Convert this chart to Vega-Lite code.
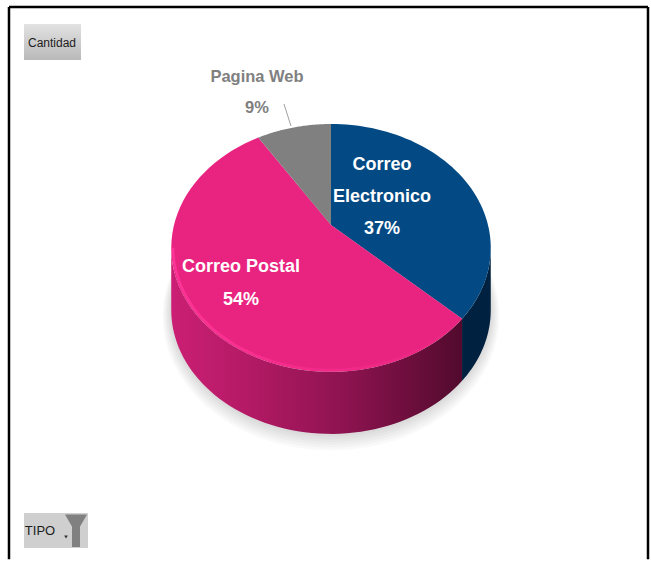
{
  "$schema": "https://vega.github.io/schema/vega-lite/v6.json",
  "width": 651,
  "height": 561,
  "padding": 0,
  "autosize": {"type": "fit", "contains": "padding"},
  "background": "white",
  "view": {"stroke": null},
  "data": {"values": [{"elemento": "marco"}]},
  "datasets": {
    "tipos": [
      {"orden": 1, "tipo": "Correo Electronico", "value": 37, "rotulo": ["Correo", "Electronico", "37%"]},
      {"orden": 2, "tipo": "Correo Postal", "value": 54, "rotulo": ["Correo Postal", "54%"]},
      {"orden": 3, "tipo": "Pagina Web", "value": 9, "rotulo": ["Pagina Web", "9%"]}
    ],
    "sombra": [{"capa": 1}, {"capa": 2}, {"capa": 3}, {"capa": 4}, {"capa": 5}, {"capa": 6}]
  },
  "layer": [
    {
      "mark": {"type": "rule", "stroke": "#000000", "strokeWidth": 2.5},
      "encoding": {
        "x": {"datum": -2.051, "scale": {"domain": [-2.1083, 2.0382], "nice": false, "zero": false}, "axis": null},
        "y": {"datum": 1.8212, "scale": {"domain": [-2.807, 1.88], "nice": false, "zero": false}, "axis": null},
        "y2": {"datum": -2.793}
      }
    },
    {
      "mark": {"type": "rule", "stroke": "#000000", "strokeWidth": 2.5},
      "encoding": {
        "x": {"datum": 2.0191, "axis": null},
        "y": {"datum": 1.8212, "axis": null},
        "y2": {"datum": -2.793}
      }
    },
    {
      "mark": {"type": "rule", "stroke": "#000000", "strokeWidth": 2.5},
      "encoding": {
        "x": {"datum": -2.051, "axis": null},
        "x2": {"datum": 2.0191},
        "y": {"datum": 1.8212, "axis": null}
      }
    },
    {
      "data": {"name": "sombra"},
      "transform": [
        {"calculate": "sequence(0, 73)", "as": "paso"},
        {"flatten": ["paso"]},
        {"calculate": "2 * PI * datum.paso / 72", "as": "th"},
        {"calculate": "1 + 0.185 * cos(datum.th)", "as": "d"},
        {"calculate": "(1 + 0.009 * datum.capa) * sin(datum.th) / datum.d", "as": "px"},
        {"calculate": "(1 + 0.014 * datum.capa) * cos(datum.th) / datum.d - 0.518 - 0.006 * datum.capa", "as": "py"}
      ],
      "mark": {"type": "line", "fill": "#000000", "fillOpacity": 0.025, "strokeWidth": 0, "interpolate": "linear"},
      "encoding": {
        "x": {"field": "px", "type": "quantitative", "axis": null},
        "y": {"field": "py", "type": "quantitative", "axis": null},
        "detail": {"field": "capa"},
        "order": {"field": "paso"}
      }
    },
    {
      "data": {"name": "tipos"},
      "transform": [
        {"window": [{"op": "sum", "field": "value", "as": "acum"}], "sort": [{"field": "orden"}]},
        {"filter": "datum.tipo === 'Correo Electronico'"},
        {"calculate": "max(2 * PI * (datum.acum - datum.value) / 100, 1.7569)", "as": "lo"},
        {"calculate": "min(2 * PI * datum.acum / 100, 4.5263)", "as": "hi"},
        {"calculate": "sequence(0, 41)", "as": "paso"},
        {"flatten": ["paso"]},
        {"calculate": "datum.lo + (datum.hi - datum.lo) * datum.paso / 40", "as": "th"},
        {"calculate": "1 + 0.185 * cos(datum.th)", "as": "d"},
        {"calculate": "sin(datum.th) / datum.d", "as": "px"},
        {"calculate": "cos(datum.th) / datum.d", "as": "py"},
        {"calculate": "datum.py - 0.518", "as": "pb"}
      ],
      "mark": {"type": "area", "fill": "#00213f"},
      "encoding": {
        "x": {"field": "px", "type": "quantitative", "axis": null},
        "y": {"field": "py", "type": "quantitative", "axis": null},
        "y2": {"field": "pb"}
      }
    },
    {
      "data": {"name": "tipos"},
      "transform": [
        {"window": [{"op": "sum", "field": "value", "as": "acum"}], "sort": [{"field": "orden"}]},
        {"filter": "datum.tipo === 'Correo Postal'"},
        {"calculate": "max(2 * PI * (datum.acum - datum.value) / 100, 1.7569)", "as": "lo"},
        {"calculate": "min(2 * PI * datum.acum / 100, 4.5263)", "as": "hi"},
        {"calculate": "sequence(0, 61)", "as": "paso"},
        {"flatten": ["paso"]},
        {"calculate": "datum.lo + (datum.hi - datum.lo) * datum.paso / 60", "as": "th"},
        {"calculate": "1 + 0.185 * cos(datum.th)", "as": "d"},
        {"calculate": "sin(datum.th) / datum.d", "as": "px"},
        {"calculate": "cos(datum.th) / datum.d", "as": "py"},
        {"calculate": "datum.py - 0.518", "as": "pb"}
      ],
      "mark": {
        "type": "area",
        "fill": {
          "gradient": "linear", "x1": 0, "y1": 0, "x2": 1, "y2": 0,
          "stops": [
            {"offset": 0, "color": "#cb1f74"},
            {"offset": 0.25, "color": "#b51a66"},
            {"offset": 0.6, "color": "#8d1350"},
            {"offset": 1, "color": "#520a2d"}
          ]
        }
      },
      "encoding": {
        "x": {"field": "px", "type": "quantitative", "axis": null},
        "y": {"field": "py", "type": "quantitative", "axis": null},
        "y2": {"field": "pb"}
      }
    },
    {
      "data": {"name": "tipos"},
      "transform": [
        {"window": [{"op": "sum", "field": "value", "as": "acum"}], "sort": [{"field": "orden"}]},
        {"calculate": "2 * PI * (datum.acum - datum.value) / 100", "as": "a0"},
        {"calculate": "2 * PI * datum.acum / 100", "as": "a1"},
        {"calculate": "sequence(-1, 61)", "as": "paso"},
        {"flatten": ["paso"]},
        {"calculate": "datum.a0 + (datum.a1 - datum.a0) * max(datum.paso, 0) / 60", "as": "th"},
        {"calculate": "datum.paso < 0 ? 0 : sin(datum.th)", "as": "sx"},
        {"calculate": "datum.paso < 0 ? 0 : cos(datum.th)", "as": "sy"},
        {"calculate": "datum.sx / (1 + 0.185 * datum.sy)", "as": "px"},
        {"calculate": "datum.sy / (1 + 0.185 * datum.sy)", "as": "py"}
      ],
      "mark": {"type": "line", "strokeWidth": 0},
      "encoding": {
        "x": {"field": "px", "type": "quantitative", "axis": null},
        "y": {"field": "py", "type": "quantitative", "axis": null},
        "fill": {
          "field": "tipo",
          "type": "nominal",
          "legend": null,
          "scale": {
            "domain": ["Correo Electronico", "Correo Postal", "Pagina Web"],
            "range": ["#034a84", "#e92480", "#808080"]
          }
        },
        "order": {"field": "paso"}
      }
    },
    {
      "data": {"name": "tipos"},
      "transform": [
        {"window": [{"op": "sum", "field": "value", "as": "acum"}], "sort": [{"field": "orden"}]},
        {"filter": "datum.tipo === 'Correo Postal'"},
        {"calculate": "max(2 * PI * (datum.acum - datum.value) / 100, 1.7569)", "as": "lo"},
        {"calculate": "min(2 * PI * datum.acum / 100, 4.5263)", "as": "hi"},
        {"calculate": "sequence(0, 61)", "as": "paso"},
        {"flatten": ["paso"]},
        {"calculate": "datum.lo + (datum.hi - datum.lo) * datum.paso / 60", "as": "th"},
        {"calculate": "1 + 0.185 * cos(datum.th)", "as": "d"},
        {"calculate": "0.988 * sin(datum.th) / datum.d", "as": "px"},
        {"calculate": "0.988 * cos(datum.th) / datum.d", "as": "py"}
      ],
      "mark": {
        "type": "line",
        "strokeWidth": 2.5,
        "stroke": {
          "gradient": "linear", "x1": 0, "y1": 0, "x2": 1, "y2": 0,
          "stops": [
            {"offset": 0, "color": "#ff3498"},
            {"offset": 0.5, "color": "#f42a8a"},
            {"offset": 1, "color": "#e92480"}
          ]
        }
      },
      "encoding": {
        "x": {"field": "px", "type": "quantitative", "axis": null},
        "y": {"field": "py", "type": "quantitative", "axis": null},
        "order": {"field": "paso"}
      }
    },
    {
      "mark": {"type": "rule", "stroke": "#a0a0a0", "strokeWidth": 1},
      "encoding": {
        "x": {"datum": -0.2994, "axis": null},
        "x2": {"datum": -0.2548},
        "y": {"datum": 1.0109, "axis": null},
        "y2": {"datum": 0.8271}
      }
    },
    {
      "data": {"name": "tipos"},
      "transform": [{"filter": "datum.tipo === 'Correo Electronico'"}],
      "mark": {"type": "text", "font": "Liberation Sans", "fontWeight": "bold", "fontSize": 18, "lineHeight": 32, "color": "#ffffff", "align": "center", "baseline": "middle"},
      "encoding": {"x": {"datum": 0.3248, "axis": null}, "y": {"datum": 0.5013, "axis": null}, "text": {"field": "rotulo"}}
    },
    {
      "data": {"name": "tipos"},
      "transform": [{"filter": "datum.tipo === 'Correo Postal'"}],
      "mark": {"type": "text", "font": "Liberation Sans", "fontWeight": "bold", "fontSize": 18, "lineHeight": 33, "color": "#ffffff", "align": "center", "baseline": "middle"},
      "encoding": {"x": {"datum": -0.5732, "axis": null}, "y": {"datum": -0.3509, "axis": null}, "text": {"field": "rotulo"}}
    },
    {
      "data": {"name": "tipos"},
      "transform": [{"filter": "datum.tipo === 'Pagina Web'"}],
      "mark": {"type": "text", "font": "Liberation Sans", "fontWeight": "bold", "fontSize": 16.5, "lineHeight": 31, "color": "#808080", "align": "center", "baseline": "middle"},
      "encoding": {"x": {"datum": -0.4713, "axis": null}, "y": {"datum": 1.2364, "axis": null}, "text": {"field": "rotulo"}}
    },
    {
      "mark": {
        "type": "rect",
        "fill": {
          "gradient": "linear", "x1": 0, "y1": 0, "x2": 0, "y2": 1,
          "stops": [{"offset": 0, "color": "#e2e2e2"}, {"offset": 1, "color": "#b9b9b9"}]
        }
      },
      "encoding": {
        "x": {"datum": -1.9554, "axis": null},
        "x2": {"datum": -1.5924},
        "y": {"datum": 1.6792, "axis": null},
        "y2": {"datum": 1.3784}
      }
    },
    {
      "mark": {"type": "text", "text": "Cantidad", "font": "Liberation Sans", "fontSize": 12, "color": "#1c1c1c", "align": "center", "baseline": "middle"},
      "encoding": {"x": {"datum": -1.7771, "axis": null}, "y": {"datum": 1.5205, "axis": null}}
    },
    {
      "mark": {"type": "rect", "fill": "#cfcfcf"},
      "encoding": {
        "x": {"datum": -1.9554, "axis": null},
        "x2": {"datum": -1.5478},
        "y": {"datum": -2.406, "axis": null},
        "y2": {"datum": -2.6984}
      }
    },
    {
      "mark": {"type": "text", "text": "TIPO", "font": "Liberation Sans", "fontSize": 13, "color": "#1c1c1c", "align": "center", "baseline": "middle"},
      "encoding": {"x": {"datum": -1.8535, "axis": null}, "y": {"datum": -2.5564, "axis": null}}
    },
    {
      "mark": {"type": "point", "shape": "triangle-down", "filled": true, "size": 14, "color": "#333333", "opacity": 1},
      "encoding": {"x": {"datum": -1.6879, "axis": null}, "y": {"datum": -2.6065, "axis": null}}
    },
    {
      "mark": {"type": "point", "shape": "triangle-down", "filled": true, "size": 484, "color": "#808080", "opacity": 1},
      "encoding": {"x": {"datum": -1.6242, "axis": null}, "y": {"datum": -2.4979, "axis": null}}
    },
    {
      "mark": {"type": "rect", "fill": "#808080"},
      "encoding": {
        "x": {"datum": -1.6497, "axis": null},
        "x2": {"datum": -1.5987},
        "y": {"datum": -2.5063, "axis": null},
        "y2": {"datum": -2.6901}
      }
    }
  ]
}
